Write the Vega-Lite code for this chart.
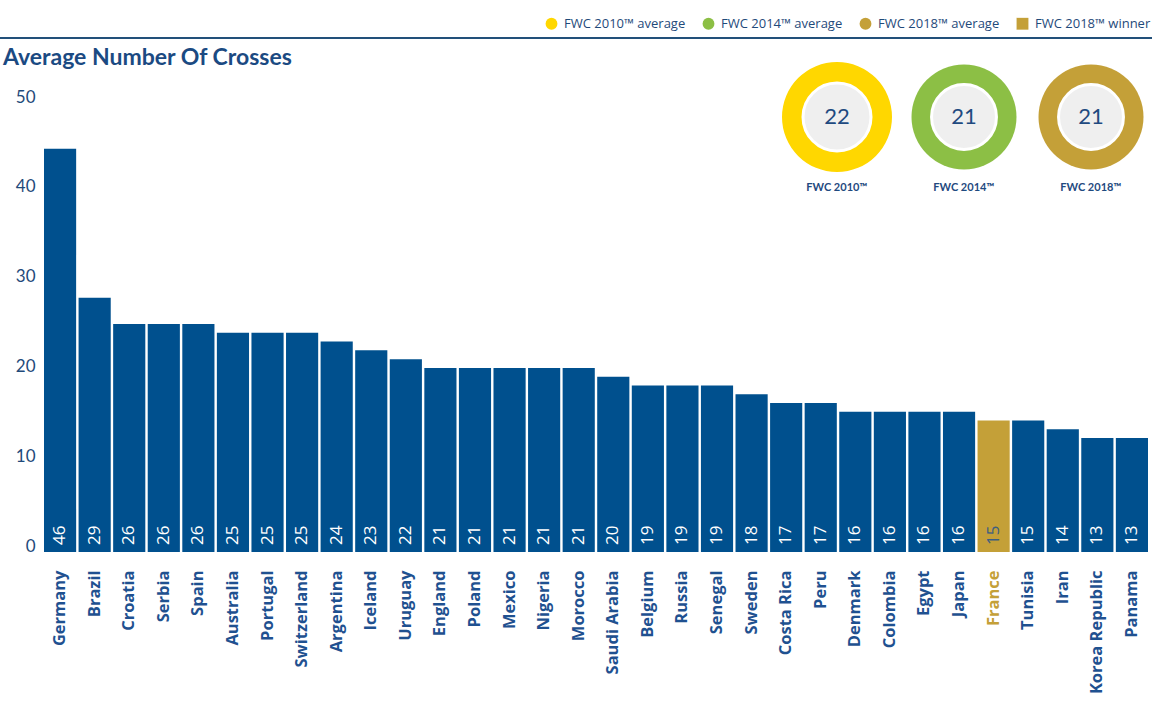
{
  "$schema": "https://vega.github.io/schema/vega-lite/v6.json",
  "width": 1152,
  "height": 455,
  "autosize": {"type": "none"},
  "padding": {"left": 0, "top": 97, "right": 0, "bottom": 152},
  "background": "white",
  "title": {
    "text": "Average Number Of Crosses",
    "anchor": "start",
    "frame": "group",
    "dx": 3,
    "offset": 0,
    "dy": 53,
    "font": "Lato",
    "fontSize": 23,
    "fontWeight": "bold",
    "color": "#1b4a82"
  },
  "config": {"view": {"stroke": null}, "font": "Open Sans"},
  "datasets": {
    "teams": [
      {"country": "Germany", "crosses": 46},
      {"country": "Brazil", "crosses": 29},
      {"country": "Croatia", "crosses": 26},
      {"country": "Serbia", "crosses": 26},
      {"country": "Spain", "crosses": 26},
      {"country": "Australia", "crosses": 25},
      {"country": "Portugal", "crosses": 25},
      {"country": "Switzerland", "crosses": 25},
      {"country": "Argentina", "crosses": 24},
      {"country": "Iceland", "crosses": 23},
      {"country": "Uruguay", "crosses": 22},
      {"country": "England", "crosses": 21},
      {"country": "Poland", "crosses": 21},
      {"country": "Mexico", "crosses": 21},
      {"country": "Nigeria", "crosses": 21},
      {"country": "Morocco", "crosses": 21},
      {"country": "Saudi Arabia", "crosses": 20},
      {"country": "Belgium", "crosses": 19},
      {"country": "Russia", "crosses": 19},
      {"country": "Senegal", "crosses": 19},
      {"country": "Sweden", "crosses": 18},
      {"country": "Costa Rica", "crosses": 17},
      {"country": "Peru", "crosses": 17},
      {"country": "Denmark", "crosses": 16},
      {"country": "Colombia", "crosses": 16},
      {"country": "Egypt", "crosses": 16},
      {"country": "Japan", "crosses": 16},
      {"country": "France", "crosses": 15},
      {"country": "Tunisia", "crosses": 15},
      {"country": "Iran", "crosses": 14},
      {"country": "Korea Republic", "crosses": 13},
      {"country": "Panama", "crosses": 13}
    ],
    "editions": [
      {"edition": "FWC 2010™", "key": "FWC 2010™ average", "avg": 22},
      {"edition": "FWC 2014™", "key": "FWC 2014™ average", "avg": 21},
      {"edition": "FWC 2018™", "key": "FWC 2018™ average", "avg": 21}
    ]
  },
  "layer": [
    {
      "data": {"name": "teams"},
      "encoding": {
        "x": {
          "field": "country",
          "type": "nominal",
          "sort": null,
          "scale": {"range": [44, 1148], "paddingInner": 0.07, "paddingOuter": 0},
          "axis": {
            "title": null,
            "labelAngle": -90,
            "labelFont": "Open Sans",
            "labelFontSize": 16.5,
            "labelFontWeight": "bold",
            "labelColor": {
              "condition": {"test": "datum.value === 'France'", "value": "#c4a038"},
              "value": "#1f5190"
            },
            "labelPadding": 18,
            "ticks": false,
            "tickSize": 0,
            "domain": false,
            "grid": false
          }
        },
        "y": {
          "field": "crosses",
          "type": "quantitative",
          "scale": {"domain": [0, 51.9], "nice": false},
          "axis": null
        }
      },
      "layer": [
        {
          "mark": {"type": "bar"},
          "encoding": {
            "color": {
              "condition": {"test": "datum.country === 'France'", "value": "#c4a038"},
              "value": "#00508e"
            }
          }
        },
        {
          "mark": {
            "type": "text",
            "angle": 270,
            "align": "left",
            "baseline": "middle",
            "dx": 7,
            "font": "Open Sans",
            "fontSize": 17
          },
          "encoding": {
            "y": {"datum": 0},
            "text": {"field": "crosses"},
            "color": {
              "condition": {"test": "datum.country === 'France'", "value": "#3d5e80"},
              "value": "white"
            }
          }
        }
      ]
    },
    {
      "data": {"name": "editions"},
      "resolve": {"scale": {"size": "independent"}},
      "layer": [
        {
          "mark": {"type": "rule", "color": "#1f4e79", "strokeWidth": 1.5},
          "encoding": {"y": {"datum": 56.56}}
        },
        {
          "mark": {"type": "point", "filled": true, "opacity": 1, "strokeWidth": 0},
          "encoding": {
            "x": {
              "field": "edition",
              "type": "nominal",
              "sort": null,
              "scale": {"type": "point", "range": [837, 1091], "padding": 0},
              "axis": null
            },
            "y": {
              "datum": 47.78,
              "type": "quantitative",
              "scale": {"domain": [-0.56, 50], "nice": false, "zero": false},
              "axis": {
                "orient": "left",
                "offset": -36,
                "title": null,
                "values": [0, 10, 20, 30, 40, 50],
                "domain": false,
                "ticks": false,
                "tickSize": 0,
                "grid": false,
                "labelPadding": 1,
                "labelFont": "Lato",
                "labelFontSize": 17,
                "labelColor": "#1f4a7a"
              }
            },
            "color": {
              "field": "key",
              "type": "nominal",
              "scale": {
                "domain": ["FWC 2010™ average", "FWC 2014™ average", "FWC 2018™ average", "FWC 2018™ winner"],
                "range": ["#ffd700", "#8cbf45", "#c4a038", "#c4a038"]
              },
              "legend": {
                "title": null,
                "orient": "none",
                "legendX": 545,
                "legendY": -80,
                "direction": "horizontal",
                "columns": 4,
                "symbolSize": 140,
                "symbolStrokeWidth": 0,
                "labelFont": "Open Sans",
                "labelFontSize": 13,
                "labelColor": "#1f4a7a",
                "labelOffset": 6,
                "columnPadding": 16
              }
            },
            "shape": {
              "field": "key",
              "type": "nominal",
              "scale": {
                "domain": ["FWC 2010™ average", "FWC 2014™ average", "FWC 2018™ average", "FWC 2018™ winner"],
                "range": ["circle", "circle", "circle", "square"]
              }
            },
            "size": {
              "field": "avg",
              "type": "quantitative",
              "scale": {"type": "pow", "exponent": 2, "domain": [0, 22], "range": [0, 12100]},
              "legend": null
            }
          }
        },
        {
          "mark": {"type": "point", "filled": true, "opacity": 1, "fill": "#efefef", "stroke": "white", "strokeWidth": 3},
          "encoding": {
            "x": {"field": "edition", "type": "nominal", "sort": null},
            "y": {"datum": 47.78},
            "size": {
              "field": "avg",
              "type": "quantitative",
              "scale": {"type": "pow", "exponent": 2, "domain": [0, 22], "range": [0, 4624]},
              "legend": null
            }
          }
        },
        {
          "mark": {"type": "text", "font": "Lato", "fontSize": 22, "color": "#1f4a80", "baseline": "middle"},
          "encoding": {
            "x": {"field": "edition", "type": "nominal", "sort": null},
            "y": {"datum": 47.78},
            "text": {"field": "avg"}
          }
        },
        {
          "mark": {"type": "text", "font": "Lato", "fontSize": 11, "fontWeight": "bold", "color": "#1f4a80", "baseline": "middle"},
          "encoding": {
            "x": {"field": "edition", "type": "nominal", "sort": null},
            "y": {"datum": 39.9},
            "text": {"field": "edition"}
          }
        }
      ]
    }
  ],
  "resolve": {"scale": {"x": "independent", "y": "independent"}}
}
